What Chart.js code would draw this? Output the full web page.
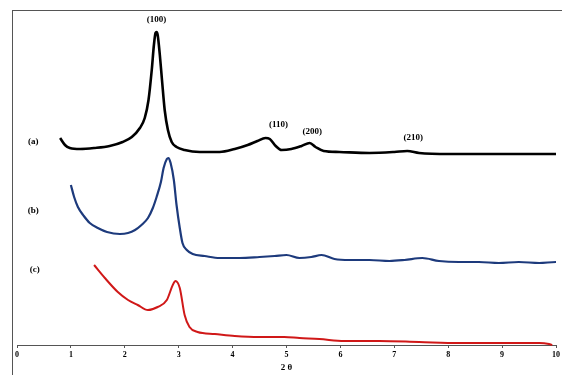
<!DOCTYPE html>
<html>
<head>
<meta charset="utf-8">
<script src="https://cdn.jsdelivr.net/npm/chart.js@4.4.1/dist/chart.umd.min.js"></script>
<style>
  html, body { margin: 0; padding: 0; background: #fff; }
  #wrap { position: relative; width: 562px; height: 375px; overflow: hidden; }
  #frame { position: absolute; left: 12px; top: 10px; width: 560px; height: 380px;
           border-left: 1px solid #555; border-top: 1px solid #555; pointer-events: none; }
  canvas { position: absolute; left: 0; top: 0; }
</style>
</head>
<body>
<div id="wrap">
  <canvas id="c" width="562" height="375"></canvas>
  <div id="frame"></div>
</div>
<script>
// ---- Data (2θ in degrees, intensity in arbitrary offset units) ----
const seriesNames = ['(a)', '(b)', '(c)'];

const aX = [0.80,0.89,0.98,1.17,1.44,1.72,1.96,2.13,2.28,2.37,2.44,2.50,2.54,2.57,2.59,2.61,2.65,2.69,2.74,2.80,2.87,2.96,3.11,3.39,3.76,4.04,4.28,4.46,4.61,4.69,4.80,4.91,5.09,5.28,5.43,5.54,5.69,5.98,6.54,7.00,7.24,7.46,8.02,8.94,10.0,10.1];
const aY = [207,200,197,196,197,199,203,208,217,227,245,275,300,312,313,310,290,265,235,215,203,198,195,193,193,196,200,204,207,206,199,195,196,199,202,198,194,193,192,193,194,192,191,191,191,191];

const bX = [1.00,1.06,1.13,1.24,1.35,1.50,1.67,1.91,2.06,2.19,2.31,2.43,2.52,2.59,2.67,2.72,2.78,2.81,2.85,2.91,2.96,3.02,3.07,3.15,3.26,3.48,3.76,4.13,4.50,4.78,5.00,5.24,5.46,5.65,5.89,6.17,6.54,6.91,7.19,7.52,7.83,8.20,8.57,8.94,9.31,9.69,10.0,10.1];
const bY = [160,148,138,129,122,117,113,111,112,115,120,127,137,148,163,177,186,187,182,165,140,117,102,95,91,89,87,87,88,89,90,87,88,90,86,85,85,84,85,87,84,83,83,82,83,82,83,83];

const cX = [1.43,1.63,1.87,2.06,2.24,2.43,2.61,2.78,2.89,2.94,3.02,3.11,3.20,3.35,3.67,4.04,4.50,4.96,5.24,5.61,6.07,6.72,7.46,8.20,8.94,9.69,9.87,9.93];
const cY = [80,67,53,45,40,35,38,45,60,64,57,30,18,13,11,9,8,8,7,6,4,4,3,2,2,2,1,0];

const xTicks = [0,1,2,3,4,5,6,7,8,9,10];

// Peak (hkl) labels anchored in data units
const peakLabels = ['(100)', '(110)', '(200)', '(210)'];
const peakLabelX = [2.59, 4.85, 5.48, 7.35];
const peakLabelY = [325, 220, 213, 207];
// Series labels anchored in data units
const seriesLabelX = [0.30, 0.30, 0.33];
const seriesLabelY = [203, 134, 75];

function pts(xs, ys) { return xs.map((x, i) => ({ x: x, y: ys[i] })); }

const textPlugin = {
  id: 'textLabels',
  afterDatasetsDraw(chart) {
    const { ctx, scales } = chart;
    ctx.save();
    ctx.fillStyle = '#000';
    ctx.textAlign = 'center';
    ctx.textBaseline = 'middle';
    ctx.font = 'bold 9px "Liberation Serif", "DejaVu Serif", serif';
    peakLabels.forEach((t, i) => {
      ctx.fillText(t, scales.x.getPixelForValue(peakLabelX[i]), scales.y.getPixelForValue(peakLabelY[i]));
    });
    seriesNames.forEach((t, i) => {
      ctx.fillText(t, scales.x.getPixelForValue(seriesLabelX[i]), scales.y.getPixelForValue(seriesLabelY[i]));
    });
    ctx.restore();
  }
};

const common = { pointRadius: 0, tension: 0.35, cubicInterpolationMode: 'monotone', fill: false, clip: false };

new Chart(document.getElementById('c'), {
  type: 'line',
  data: {
    datasets: [
      Object.assign({ label: seriesNames[0], data: pts(aX, aY), borderColor: '#000000', borderWidth: 2.6 }, common),
      Object.assign({ label: seriesNames[1], data: pts(bX, bY), borderColor: '#1d3a7c', borderWidth: 2.2 }, common),
      Object.assign({ label: seriesNames[2], data: pts(cX, cY), borderColor: '#d01818', borderWidth: 2.0 }, common)
    ]
  },
  options: {
    responsive: false,
    animation: false,
    layout: { padding: { left: 17, right: 5, top: 10, bottom: 0 } },
    plugins: { legend: { display: false }, tooltip: { enabled: false } },
    scales: {
      x: {
        type: 'linear',
        min: 0, max: 10,
        afterBuildTicks(scale) { scale.ticks = xTicks.map(v => ({ value: v })); },
        afterFit(scale) { scale.height = 30; },
        grid: { display: true, drawOnChartArea: false, drawTicks: true, tickLength: 3, color: '#555' },
        border: { display: true, color: '#555', width: 1 },
        ticks: { color: '#000', padding: 2, maxRotation: 0, autoSkip: false,
                 font: { family: '"Liberation Serif", "DejaVu Serif", serif', size: 8, weight: 'bold' } },
        title: { display: true, text: '2 θ', color: '#000', padding: { top: 2, bottom: 2 },
                 font: { family: '"Liberation Serif", "DejaVu Serif", serif', size: 9, weight: 'bold' } }
      },
      y: { type: 'linear', display: false, min: 0, max: 335 }
    }
  },
  plugins: [textPlugin]
});
</script>
</body>
</html>
